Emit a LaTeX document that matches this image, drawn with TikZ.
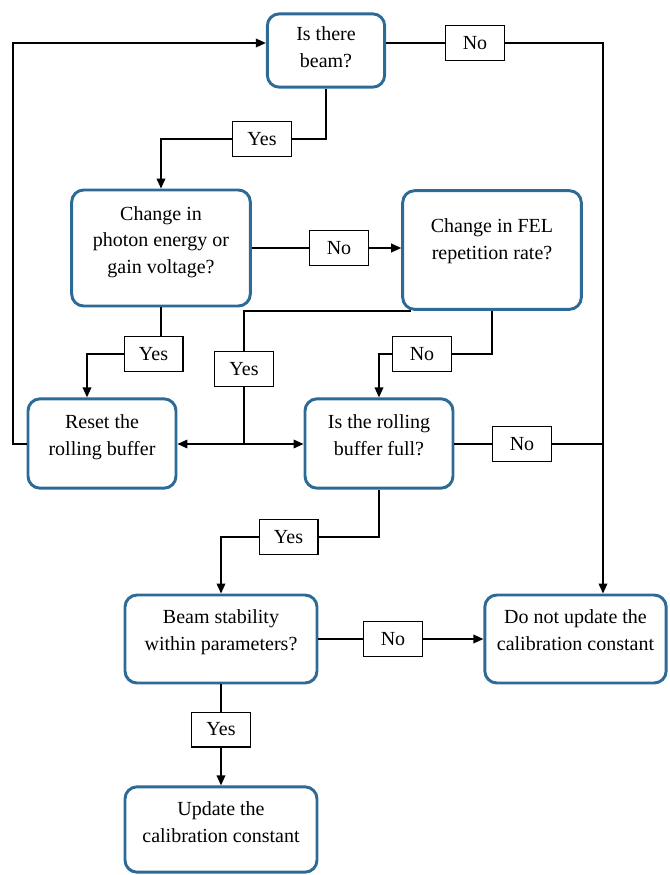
\documentclass[tikz,border=0pt]{standalone}
\usepackage{fontspec}
\setmainfont{Liberation Serif}
\usetikzlibrary{arrows.meta}
\definecolor{boxblue}{RGB}{46,106,150}

\begin{document}
\begin{tikzpicture}[
    x=0.75pt, y=-0.75pt,
    font=\fontsize{15pt}{20pt}\selectfont,
    block/.style={draw=boxblue, line width=2.2pt, rounded corners=9pt, align=center, text depth=13pt},
    answer/.style={draw, line width=1pt, minimum width=44pt, minimum height=26pt, inner sep=0pt},
    line/.style={line width=1.1pt},
    >={Triangle[length=7.5pt,width=6.5pt]}
  ]
  \useasboundingbox (0,0) rectangle (669,875);

  % process boxes
  \node[block, minimum width=88pt, minimum height=55pt, text depth=5pt] (beam) at (326,50.5) {Is there\\beam?};
  \node[block, minimum width=134pt, minimum height=87pt, text depth=12pt] (change) at (161,248) {Change in\\photon energy or\\gain voltage?};
  \node[block, minimum width=134pt, minimum height=89pt, text depth=16pt] (fel) at (492,250) {Change in FEL\\repetition rate?};
  \node[block, minimum width=111pt, minimum height=67pt] (reset) at (102,443.5) {Reset the\\rolling buffer};
  \node[block, minimum width=111pt, minimum height=67pt] (roll) at (379,443.5) {Is the rolling\\buffer full?};
  \node[block, minimum width=144pt, minimum height=66pt] (stab) at (221,639) {Beam stability\\within parameters?};
  \node[block, minimum width=136pt, minimum height=66pt] (donot) at (575.5,639) {Do not update the\\calibration constant};
  \node[block, minimum width=144pt, minimum height=64pt, text depth=11pt] (update) at (221,829.5) {Update the\\calibration constant};

  % yes/no tags
  \node[answer] (noA)  at (475,43)    {No};
  \node[answer] (yesA) at (262,139)   {Yes};
  \node[answer] (noB)  at (339,248)   {No};
  \node[answer] (yesB) at (153.5,354) {Yes};
  \node[answer] (yesC) at (244,369)   {Yes};
  \node[answer] (noC)  at (422,354)   {No};
  \node[answer] (noD)  at (522,444)   {No};
  \node[answer] (yesD) at (288.5,537) {Yes};
  \node[answer] (noE)  at (393,639)   {No};
  \node[answer] (yesE) at (221,729.5) {Yes};

  \coordinate (rail)  at (603,43);
  \coordinate (lrail) at (13,43);
  \coordinate (split) at (244,444);

  % connectors
  \draw[line] (beam.east |- noA) -- (noA);
  \draw[line,->] (noA) -- (rail) -- (rail |- donot.north);
  \draw[line] (beam.south) |- (yesA);
  \draw[line,->] (yesA) -| (change.north);

  \draw[line] (change.east) -- (noB);
  \draw[line,->] (noB) -- (noB -| fel.west);
  \draw[line] (change.south) -- (change.south |- yesB.north);
  \draw[line,->] (yesB.west) -| ([xshift=-11.25pt]reset.north);

  \draw[line] ([xshift=7.5pt]fel.south west) -| (yesC.north);
  \draw[line] (yesC.south) -- (split);
  \draw[line,->] (split) -- (split -| reset.east);
  \draw[line,->] (split) -- (split -| roll.west);
  \draw[line] (fel.south) |- (noC);
  \draw[line,->] (noC) -| (roll.north);

  \draw[line] (roll.east |- noD) -- (noD);
  \draw[line] (noD) -- (noD -| rail);
  \draw[line,->] (reset.west |- split) -| (lrail) -- (lrail -| beam.west);

  \draw[line] (roll.south) |- (yesD);
  \draw[line,->] (yesD) -| (stab.north);
  \draw[line] (stab.east) -- (noE);
  \draw[line,->] (noE) -- (donot);
  \draw[line] (stab) -- (yesE);
  \draw[line,->] (yesE) -- (update);
\end{tikzpicture}
\end{document}
